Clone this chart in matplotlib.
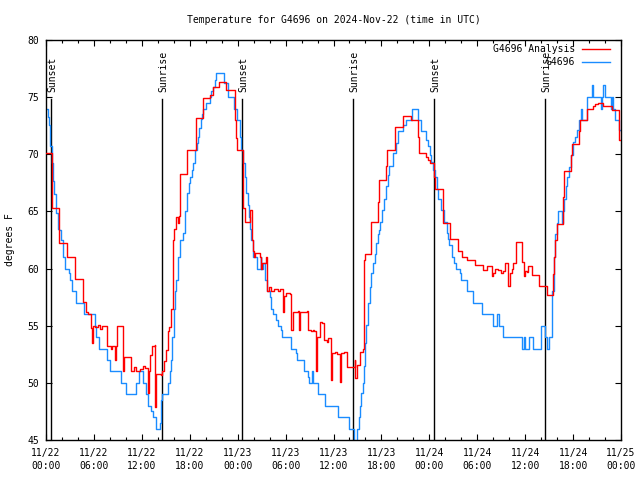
import matplotlib
matplotlib.use("Agg")
import matplotlib.pyplot as plt
from matplotlib.ticker import MultipleLocator, FixedLocator
import matplotlib.transforms as mtransforms

# ---------------- data (hours since 2024-11-22 00:00 UTC) ----------------
obs_hours = [0.0,0.2,0.35,0.5,0.56,0.7,0.85,1.0,1.2,1.45,1.69,1.82,2.1,2.44,2.86,3.03,3.23,3.70,4.74,6.08,6.29,6.62,7.67,7.96,9.42,9.96,11.30,11.63,12.13,12.47,12.76,13.18,13.38,13.81,14.22,14.35,14.51,15.26,15.48,15.66,15.81,15.98,16.14,16.32,16.52,16.82,17.2,17.45,17.6,17.9,18.05,18.3,18.45,18.6,18.7,18.85,19.0,19.2,19.35,19.55,19.72,20.0,20.49,20.7,20.9,21.1,21.3,22.27,22.8,23.5,23.9,24.25,24.46,24.66,24.87,25.09,25.29,25.41,25.55,25.71,25.91,26.42,26.88,26.97,27.17,27.38,27.67,28.01,28.22,28.42,28.85,29.05,29.47,29.6,30.64,31.35,31.48,32.31,32.75,32.93,33.31,33.43,34.06,34.90,36.57,37.94,38.53,39.0,39.16,39.29,39.5,39.7,39.82,40.0,40.13,40.33,40.54,40.75,40.95,41.16,41.37,41.54,41.7,41.88,42.13,42.29,42.54,42.83,42.96,43.46,43.88,44.09,44.71,45.05,45.84,46.59,46.9,47.64,47.85,48.06,48.27,48.47,48.68,48.97,49.1,49.52,49.81,50.15,50.35,50.48,50.85,51.1,51.32,51.82,51.91,52.73,53.41,54.61,55.91,56.42,56.74,57.24,59.55,59.84,59.96,60.46,61.0,61.93,62.47,62.76,63.01,63.31,63.38,63.6,63.78,63.93,64.13,64.6,64.72,64.85,65.1,65.26,65.51,65.69,66.02,66.23,66.44,66.77,66.94,67.07,67.69,68.4,68.52,69.45,69.57,69.77,69.99,70.70,70.9,71.03,71.24,71.78,72.0]
obs_temps = [74.0,73.3,72.6,71.5,70.7,69.2,67.7,66.5,64.9,63.5,63.4,62.5,61.0,60.0,59.6,59.0,58.0,57.0,56.0,55.0,54.0,53.0,52.0,51.0,50.0,49.0,50.0,51.0,50.0,49.0,48.0,47.5,47.0,46.0,46.5,48.5,49.0,50.0,51.0,52.0,54.0,56.5,58.0,59.0,61.0,62.5,63.1,65.0,66.6,67.5,68.0,68.6,69.2,69.8,70.4,71.0,71.5,72.3,73.1,73.5,74.0,74.5,75.0,75.5,75.9,76.5,77.1,76.2,75.0,74.0,73.0,71.5,70.4,69.2,68.0,66.6,65.6,64.5,63.5,62.5,61.0,60.0,61.0,60.0,60.5,59.0,58.0,57.5,56.5,56.0,55.5,55.0,54.6,54.0,53.0,52.6,52.0,51.0,50.5,50.0,51.0,50.0,49.0,48.0,47.0,46.0,44.8,46.0,47.0,48.0,49.1,50.0,51.5,53.5,55.1,57.0,58.4,59.6,60.5,61.3,62.2,63.0,63.4,64.1,65.1,66.1,67.2,68.2,69.0,70.1,71.0,72.0,72.6,73.0,74.0,73.0,72.0,71.25,70.7,69.9,69.3,68.6,68.0,67.0,66.05,65.1,64.1,63.1,62.6,62.1,61.0,60.5,60.0,59.6,59.0,58.0,57.0,56.0,55.0,56.0,55.0,54.0,53.0,54.0,53.0,54.0,53.0,55.0,54.0,53.0,54.0,55.5,58.0,61.0,63.0,64.0,65.0,64.0,65.0,66.05,67.2,68.0,68.9,69.9,71.1,71.5,72.1,73.0,74.0,73.0,75.0,76.1,75.0,74.0,75.0,76.1,75.0,74.0,75.0,74.0,73.0,72.1,72.0]

ana_hours = [0.0,0.73,1.6,1.69,2.66,3.66,4.61,5.04,5.2,5.66,5.75,5.85,6.08,6.5,6.7,7.0,7.67,8.1,8.3,8.58,8.75,8.87,9.62,9.7,9.8,10.68,11.0,11.3,11.8,12.13,12.4,12.76,12.9,12.97,13.26,13.6,13.68,13.81,14.4,14.51,14.72,15.06,15.26,15.45,15.6,15.89,16.0,16.32,16.5,16.6,16.73,16.82,17.64,18.73,18.82,19.65,20.49,20.86,21.65,22.58,23.62,23.85,23.97,24.62,24.96,25.5,25.79,25.91,26.0,26.17,26.75,26.88,27.05,27.51,27.67,27.9,28.2,28.6,29.05,29.3,29.67,29.8,30.1,30.5,30.73,30.9,31.5,31.68,31.85,32.68,32.81,33.2,33.43,33.6,33.77,33.93,34.36,34.6,34.77,35.2,35.35,35.65,35.8,36.2,36.5,36.78,36.9,37.3,37.69,38.53,38.66,38.75,39.0,39.29,39.7,39.79,39.91,40.75,41.58,41.67,42.63,42.71,43.67,43.76,44.71,45.76,46.59,46.65,47.64,47.85,48.06,48.56,48.68,49.65,50.65,51.6,52.11,52.73,53.70,54.74,55.16,55.79,56.0,56.2,56.6,56.92,57.2,57.46,57.79,58.08,58.3,58.5,58.8,59.62,59.84,60.0,60.2,60.38,60.8,61.75,62.76,63.51,63.6,63.72,63.93,64.76,64.85,65.69,65.81,66.77,66.85,67.69,68.52,68.8,69.15,69.77,70.82,71.78,72.0]
ana_temps = [70.1,65.3,63.1,62.2,61.0,59.1,57.1,56.2,56.0,54.8,53.5,55.0,54.9,55.1,54.7,55.0,53.2,53.0,53.2,52.0,53.2,55.0,53.1,51.0,52.3,51.0,51.4,51.0,51.2,51.5,51.3,49.1,51.0,52.4,53.2,53.3,47.9,50.8,50.7,51.0,51.9,52.9,54.5,54.9,56.5,62.5,63.5,64.5,64.0,64.6,66.0,68.3,70.4,71.8,73.2,74.9,75.2,75.9,76.3,75.6,73.0,71.4,70.4,65.3,64.1,65.1,62.5,61.5,61.0,61.4,61.0,60.0,60.5,61.0,58.0,58.4,58.0,58.2,58.0,58.2,56.2,57.6,57.9,57.8,54.6,56.2,56.3,54.6,56.2,56.3,54.6,54.5,54.6,54.5,51.0,54.0,55.3,55.2,53.75,53.6,53.9,50.25,52.6,52.7,52.5,50.1,52.6,52.7,51.4,51.4,52.0,50.4,51.6,52.7,53.0,60.75,61.3,64.1,65.85,67.75,69.0,70.4,71.8,72.4,73.35,73.0,71.5,70.1,69.8,69.5,69.2,68.0,67.0,64.0,62.6,61.5,61.0,60.75,60.3,59.9,60.2,59.35,59.6,60.0,59.9,59.6,59.8,60.5,58.5,59.6,60.0,60.5,62.3,60.55,59.35,59.8,59.7,60.2,59.4,58.5,57.7,59.5,61.0,62.5,63.9,66.3,68.5,69.9,70.9,72.0,73.0,74.0,74.2,74.4,74.5,74.2,73.9,71.25,71.25]

sun_hours = [0.6, 14.5, 24.55, 38.45, 48.6, 62.5]
sun_labels = ["Sunset", "Sunrise", "Sunset", "Sunrise", "Sunset", "Sunrise"]

tick_hours = [0, 6, 12, 18, 24, 30, 36, 42, 48, 54, 60, 66, 72]
tick_labels = ["11/22\n00:00", "11/22\n06:00", "11/22\n12:00", "11/22\n18:00",
               "11/23\n00:00", "11/23\n06:00", "11/23\n12:00", "11/23\n18:00",
               "11/24\n00:00", "11/24\n06:00", "11/24\n12:00", "11/24\n18:00",
               "11/25\n00:00"]

series_names = ["G4696 Analysis", "G4696"]
title = "Temperature for G4696 on 2024-Nov-22 (time in UTC)"

# ---------------- plot ----------------
plt.rcParams['font.family'] = ['DejaVu Sans Mono']
plt.rcParams['font.size'] = 7

RED = '#ff0000'
BLUE = '#1a8cff'

fig = plt.figure(figsize=(6.4, 4.8), dpi=100)
ax = fig.add_axes([46/640, 40/480, 575/640, 400/480])

ax.step(ana_hours, ana_temps, where='post', color=RED, lw=1.0, zorder=3)
ax.step(obs_hours, obs_temps, where='post', color=BLUE, lw=1.0, zorder=2)

ax.set_xlim(0, 72)
ax.set_ylim(45, 80)

line_top = 0.8525
for h, lab in zip(sun_hours, sun_labels):
    ax.axvline(h, ymin=0, ymax=line_top, color='black', lw=1.0, zorder=1)
    ax.text(h + 0.15, line_top + 0.018, lab, rotation=90, ha='center', va='bottom',
            transform=mtransforms.blended_transform_factory(ax.transData, ax.transAxes),
            fontsize=7)

ax.xaxis.set_major_locator(FixedLocator(tick_hours))
ax.set_xticklabels(tick_labels)
ax.xaxis.set_minor_locator(MultipleLocator(2))
ax.yaxis.set_major_locator(MultipleLocator(5))
ax.tick_params(which='both', direction='in', top=True, right=True, width=0.8)
ax.tick_params(which='major', length=4.5)
ax.tick_params(which='minor', length=2.2)
ax.tick_params(axis='x', which='major', pad=6)
ax.tick_params(axis='y', which='major', pad=5)
for lbl in ax.get_xticklabels():
    lbl.set_linespacing(1.35)
for sp in ax.spines.values():
    sp.set_linewidth(1.0)

# legend (manual, right aligned like the original)
tr = ax.transAxes
leg_y = [(440 - 49.3) / 400, (440 - 62.3) / 400]
x_text = (575 - 46) / 575
x0 = (582 - 46) / 575
x1 = (610 - 46) / 575
for name, col, yy in zip(series_names, [RED, BLUE], leg_y):
    ax.text(x_text, yy, name, transform=tr, ha='right', va='center', fontsize=7, zorder=5)
    ax.plot([x0, x1], [yy, yy], transform=tr, color=col, lw=1.0, clip_on=False, zorder=5)

fig.text(333.5/640, 1 - 20/480, title, ha='center', va='center', fontsize=7)
fig.text(10/640, 0.5, 'degrees F', rotation=90, ha='center', va='center', fontsize=7)

fig.savefig('out.png', dpi=100)
